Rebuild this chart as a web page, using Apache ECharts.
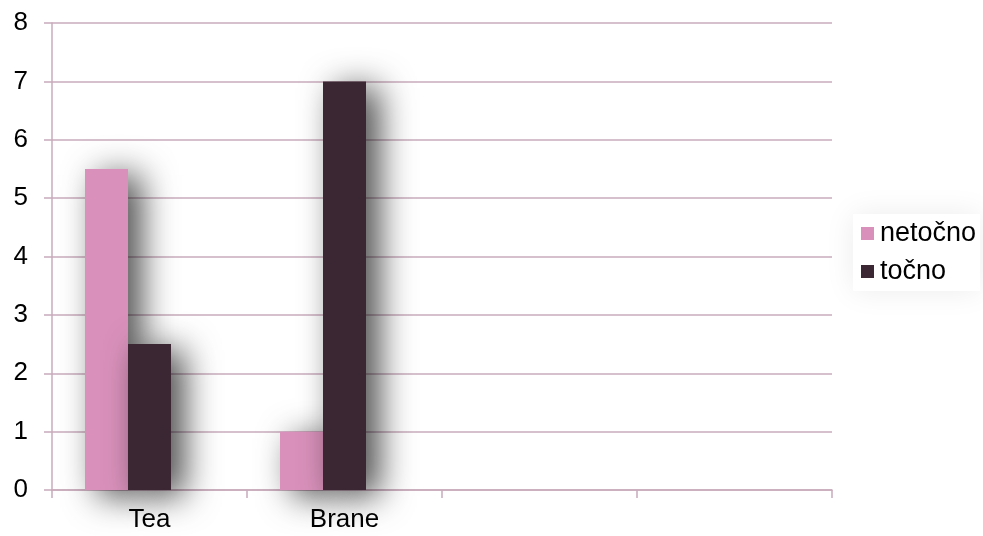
<!DOCTYPE html>
<html><head><meta charset="utf-8">
<script src="https://cdn.jsdelivr.net/npm/echarts@6/dist/echarts.min.js"></script>
<style>html,body{margin:0;padding:0;background:#fff}#c{width:983px;height:536px}</style>
</head><body><div id="c"></div>
<script>
const categories = ['Tea', 'Brane', '', ''];
const netocno = [5.5, 1, null, null];
const tocno = [2.5, 7, null, null];
const emptySlot = [null, null, null, null];
const yTicks = { min: 0, max: 8, interval: 1 };

const gridColor = '#c9abbc';
const font = 'Liberation Sans, Arial, sans-serif';
const shadow = { shadowColor: 'rgba(0,0,0,0.72)', shadowBlur: 34, shadowOffsetX: 13, shadowOffsetY: 6 };
const chart = echarts.init(document.getElementById('c'));
chart.setOption({
  animation: false,
  textStyle: { fontFamily: font },
  grid: { left: 52, right: 151, top: 23, bottom: 46 },
  legend: {
    data: ['netočno', 'točno'],
    orient: 'vertical', left: 853, top: 214,
    itemWidth: 13, itemHeight: 13, itemGap: 11,
    icon: 'rect', padding: [6, 4, 6, 8],
    textStyle: { fontSize: 27, color: '#000', fontFamily: font, padding: [0, 0, 0, 1] },
    backgroundColor: '#ffffff',
    shadowColor: 'rgba(0,0,0,0.08)', shadowBlur: 30
  },
  xAxis: {
    type: 'category', data: categories,
    axisLine: { lineStyle: { color: gridColor, width: 1.5 } },
    axisTick: { show: true, length: 8, interval: 0, lineStyle: { color: gridColor, width: 1.5 } },
    axisLabel: { fontSize: 26, color: '#000', margin: 17, interval: 0 }
  },
  yAxis: {
    type: 'value', min: yTicks.min, max: yTicks.max, interval: yTicks.interval,
    axisLine: { show: true, lineStyle: { color: gridColor, width: 1.5 } },
    axisTick: { show: true, length: 8, lineStyle: { color: gridColor, width: 1.5 } },
    splitLine: { lineStyle: { color: gridColor, width: 1.5 } },
    axisLabel: { fontSize: 26, color: '#000', margin: 24 }
  },
  series: [
    { name: 'netočno', type: 'bar', data: netocno, barWidth: 43, barGap: '0%',
      itemStyle: Object.assign({ color: '#d991bb' }, shadow) },
    { name: 'točno', type: 'bar', data: tocno, barWidth: 43, barGap: '0%',
      itemStyle: Object.assign({ color: '#3b2733' }, shadow) },
    { name: 'empty', type: 'bar', data: emptySlot, barWidth: 43, barGap: '0%' }
  ]
});
</script></body></html>
